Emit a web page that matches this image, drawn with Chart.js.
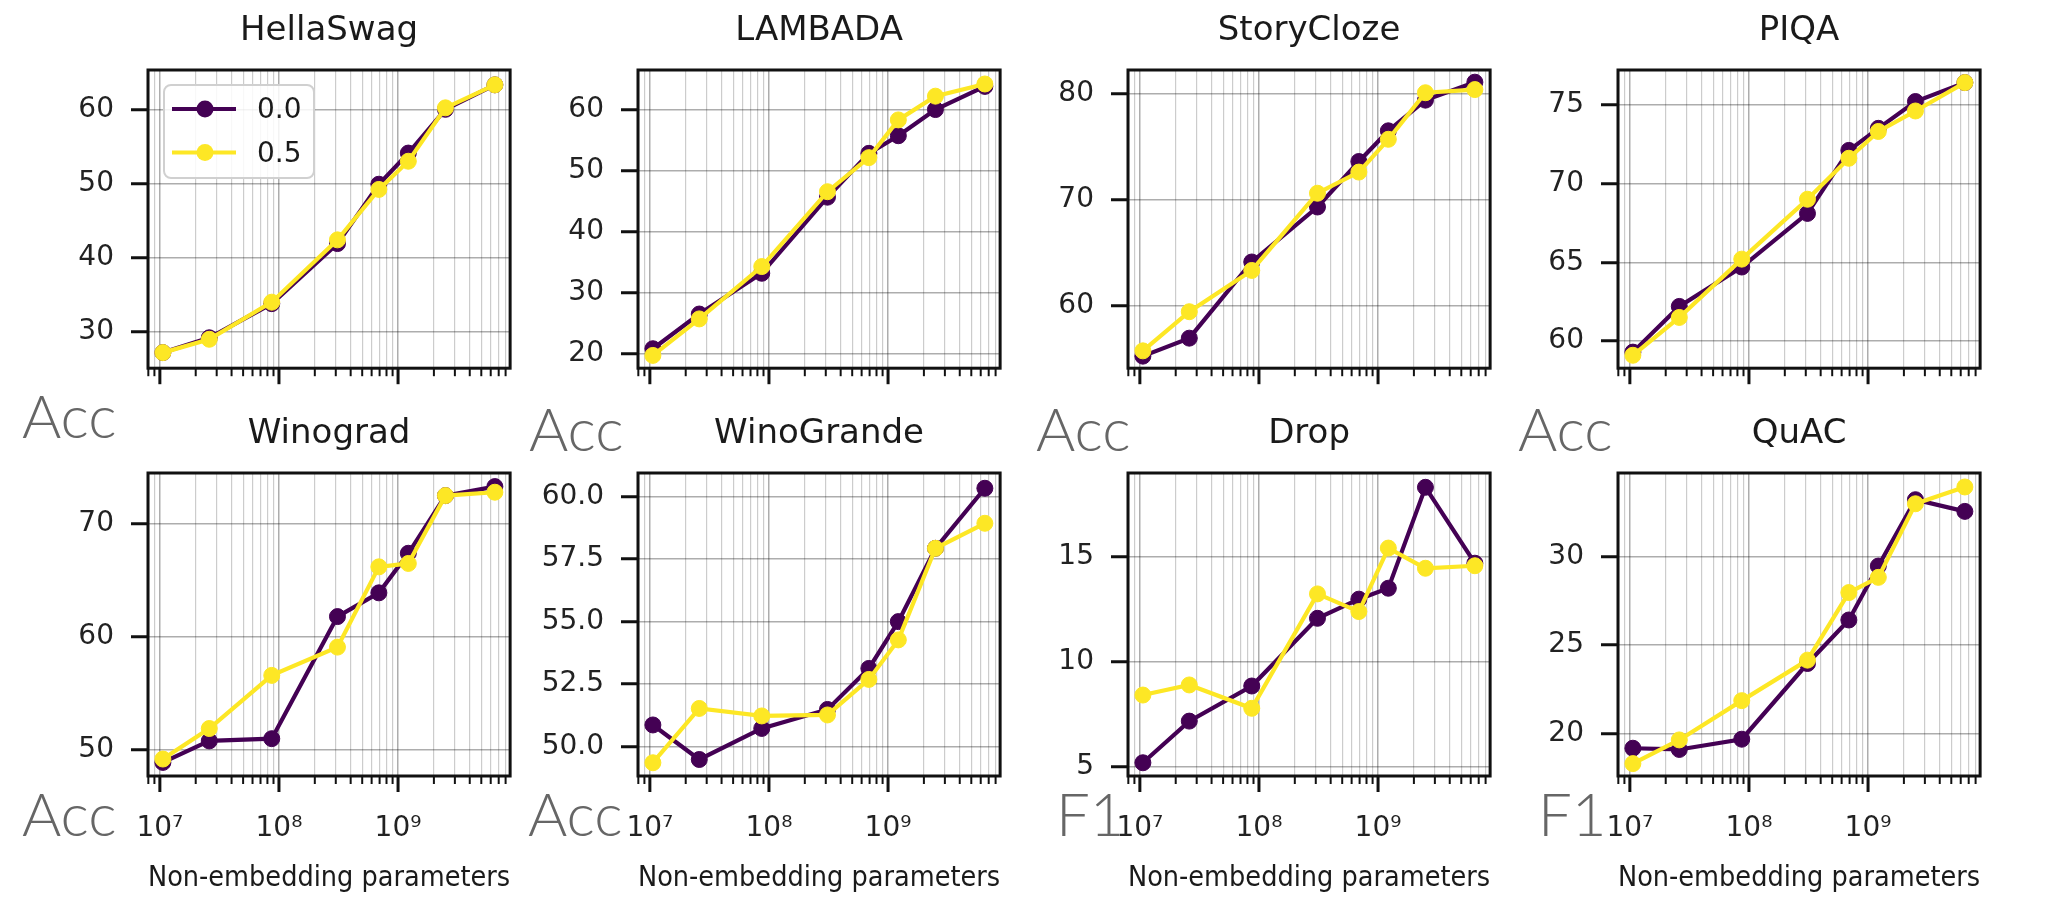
<!DOCTYPE html>
<html>
<head>
<meta charset="utf-8">
<script src="https://cdn.jsdelivr.net/npm/chart.js"></script>
<style>
  html, body { margin: 0; padding: 0; background: #fff; }
  body { width: 2045px; height: 898px; position: relative; overflow: hidden; }
  .painel { position: absolute; }
  #metricas { position: absolute; left: 0; top: 0; }
  #metricas text { font-family: Lato, "Open Sans", sans-serif; font-weight: 300; font-size: 60px; fill: #666; }
</style>
</head>
<body>
<svg id="metricas" width="2045" height="898"></svg>
<script>
// dados (eixo x em escala log)
const params = [1.06e7, 2.6e7, 8.7e7, 3.1e8, 6.9e8, 1.22e9, 2.5e9, 6.5e9];
const seriesLabels = ['0.0', '0.5'];
const seriesColors = ['#440154', '#fde725'];
const tarefas = ['HellaSwag', 'LAMBADA', 'StoryCloze', 'PIQA', 'Winograd', 'WinoGrande', 'Drop', 'QuAC'];
const metricas = ['Acc', 'Acc', 'Acc', 'Acc', 'Acc', 'Acc', 'F1', 'F1'];

const scores00 = [
  [27.2, 29.2, 33.8, 41.9, 49.9, 54.1, 60.0, 63.3],
  [20.8, 26.5, 33.2, 45.7, 52.9, 55.8, 60.1, 63.9],
  [55.2, 56.9, 64.1, 69.3, 73.6, 76.5, 79.4, 81.1],
  [59.3, 62.2, 64.7, 68.1, 72.1, 73.5, 75.2, 76.4],
  [48.9, 50.8, 51.0, 61.8, 63.9, 67.4, 72.5, 73.3],
  [50.87, 49.49, 50.73, 51.49, 53.13, 55.0, 57.93, 60.33],
  [5.19, 7.17, 8.84, 12.06, 12.97, 13.49, 18.29, 14.68],
  [19.17, 19.1, 19.68, 23.96, 26.42, 29.47, 33.22, 32.56]
];
const scores05 = [
  [27.2, 29.0, 34.0, 42.4, 49.2, 53.0, 60.2, 63.3],
  [19.7, 25.7, 34.3, 46.6, 52.2, 58.4, 62.3, 64.3],
  [55.7, 59.4, 63.3, 70.6, 72.6, 75.7, 80.1, 80.4],
  [59.1, 61.5, 65.2, 69.0, 71.6, 73.3, 74.6, 76.4],
  [49.2, 51.9, 56.6, 59.1, 66.2, 66.5, 72.5, 72.8],
  [49.36, 51.53, 51.23, 51.27, 52.69, 54.27, 57.93, 58.93],
  [8.41, 8.89, 7.78, 13.22, 12.38, 15.4, 14.44, 14.56],
  [18.3, 19.64, 21.86, 24.15, 27.97, 28.83, 32.99, 33.94]
];

const yTicks = [
  [30, 40, 50, 60],
  [20, 30, 40, 50, 60],
  [60, 70, 80],
  [60, 65, 70, 75],
  [50, 60, 70],
  [50, 52.5, 55, 57.5, 60],
  [5, 10, 15],
  [20, 25, 30]
];
const yMin = [25.1, 17.6, 54.06, 58.28, 47.7, 48.83, 4.56, 17.6];
const yMax = [65.3, 66.6, 82.25, 77.2, 74.5, 60.94, 18.97, 34.73];

const xMin = 7.95e6, xMax = 8.73e9;
const xMajorTicks = [1e7, 1e8, 1e9];
const xMajorLabels = ['10⁷', '10⁸', '10⁹'];
const xTitulo = 'Non-embedding parameters';

// layout
const colLeft = [148, 638, 1128, 1618];
const rowTop = [70, 473];
const PLOT_W = 388, PLOT_H = 303;
const Y_AXIS_W = 110, TITLE_H = 70, RIGHT_PAD = 6;
const posMetricas = [[22, 438], [529, 451], [1036, 451], [1518, 451], [22, 836], [528, 836], [1056, 836], [1538, 836]];

Chart.defaults.font.family = '"DejaVu Sans", sans-serif';
Chart.defaults.color = '#222';

function ticksLog(min, max) {
  const t = [];
  for (let e = 6; e <= 9; e++) {
    for (let m = 1; m <= 9; m++) {
      const v = m * Math.pow(10, e);
      if (v >= min && v <= max) t.push(v);
    }
  }
  return t;
}
const xTickValues = ticksLog(xMin, xMax);
const ehMaior = v => xMajorTicks.includes(v);

// moldura + marcas do eixo x (maiores e menores)
const moldura = {
  id: 'moldura',
  afterDraw(chart) {
    const { ctx, chartArea: a, scales: { x } } = chart;
    ctx.save();
    ctx.strokeStyle = '#111';
    x.ticks.forEach(t => {
      const px = x.getPixelForValue(t.value);
      const maior = ehMaior(t.value);
      ctx.lineWidth = maior ? 3 : 2;
      ctx.beginPath();
      ctx.moveTo(px, a.bottom);
      ctx.lineTo(px, a.bottom + (maior ? 16 : 8));
      ctx.stroke();
    });
    ctx.lineWidth = 3;
    ctx.strokeRect(a.left, a.top, a.right - a.left, a.bottom - a.top);
    ctx.restore();
  }
};

// legenda dentro do gráfico, como no matplotlib
const legendaInterna = {
  id: 'legendaInterna',
  afterDraw(chart, args, opts) {
    if (!opts.mostrar) return;
    const { ctx, chartArea: a } = chart;
    const x0 = a.left + 16, y0 = a.top + 15, w = 150, h = 93;
    ctx.save();
    ctx.fillStyle = 'rgba(255,255,255,0.85)';
    ctx.strokeStyle = '#d0d0d0';
    ctx.lineWidth = 2;
    ctx.beginPath();
    ctx.roundRect(x0, y0, w, h, 7);
    ctx.fill();
    ctx.stroke();
    chart.data.datasets.forEach((ds, i) => {
      const cy = y0 + 24 + i * 43.5;
      ctx.strokeStyle = ds.borderColor;
      ctx.lineWidth = 4.2;
      ctx.beginPath();
      ctx.moveTo(x0 + 8, cy);
      ctx.lineTo(x0 + 72, cy);
      ctx.stroke();
      ctx.fillStyle = ds.borderColor;
      ctx.beginPath();
      ctx.arc(x0 + 41, cy, 8.5, 0, 2 * Math.PI);
      ctx.fill();
      ctx.fillStyle = '#1a1a1a';
      ctx.font = '28px "DejaVu Sans"';
      ctx.textBaseline = 'middle';
      ctx.fillText(ds.label, x0 + 93, cy + 2);
    });
    ctx.restore();
  }
};

function criarPainel(i) {
  const col = i % 4, row = Math.floor(i / 4);
  const linhaDeBaixo = row === 1;
  const xAxisH = linhaDeBaixo ? 122 : 29;
  const canvas = document.createElement('canvas');
  canvas.className = 'painel';
  canvas.width = Y_AXIS_W + PLOT_W + RIGHT_PAD;
  canvas.height = TITLE_H + PLOT_H + xAxisH;
  canvas.style.left = (colLeft[col] - Y_AXIS_W) + 'px';
  canvas.style.top = (rowTop[row] - TITLE_H) + 'px';
  document.body.appendChild(canvas);

  const decimais = yTicks[i].some(v => v % 1 !== 0) ? 1 : 0;
  const series = [scores00[i], scores05[i]];

  new Chart(canvas, {
    type: 'line',
    data: {
      datasets: series.map((s, k) => ({
        label: seriesLabels[k],
        data: params.map((p, j) => ({ x: p, y: s[j] })),
        borderColor: seriesColors[k],
        backgroundColor: seriesColors[k],
        pointBackgroundColor: seriesColors[k],
        pointBorderColor: seriesColors[k],
        borderWidth: 4.2,
        pointRadius: 8,
        pointBorderWidth: 1,
        tension: 0,
        order: k === 0 ? 1 : 0
      }))
    },
    options: {
      responsive: false,
      animation: false,
      events: [],
      layout: { padding: { right: RIGHT_PAD } },
      plugins: {
        legend: { display: false },
        tooltip: { enabled: false },
        title: {
          display: true,
          text: tarefas[i],
          fullSize: false,
          color: '#1a1a1a',
          font: { size: 34, weight: 'normal' },
          padding: { top: 11.2, bottom: 18 }
        },
        legendaInterna: { mostrar: i === 0 }
      },
      scales: {
        x: {
          type: 'logarithmic',
          min: xMin,
          max: xMax,
          afterBuildTicks: s => { s.ticks = xTickValues.map(v => ({ value: v })); },
          afterFit: s => { s.height = xAxisH; },
          ticks: {
            autoSkip: false,
            maxRotation: 0,
            padding: 36,
            font: { size: 28 },
            color: '#222',
            callback: v => {
              if (!linhaDeBaixo) return '';
              const k = xMajorTicks.indexOf(v);
              return k >= 0 ? xMajorLabels[k] : '';
            }
          },
          grid: {
            drawTicks: false,
            color: c => ehMaior(c.tick.value) ? 'rgba(0,0,0,0.32)' : 'rgba(0,0,0,0.2)',
            lineWidth: c => ehMaior(c.tick.value) ? 1.5 : 1.2
          },
          border: { display: false },
          title: {
            display: linhaDeBaixo,
            text: xTitulo,
            color: '#1a1a1a',
            font: { size: 29 },
            padding: { top: 0, bottom: 2.5 }
          }
        },
        y: {
          type: 'linear',
          min: yMin[i],
          max: yMax[i],
          afterBuildTicks: s => { s.ticks = yTicks[i].map(v => ({ value: v })); },
          afterFit: s => { s.width = Y_AXIS_W; },
          ticks: {
            padding: 17,
            font: { size: 28 },
            color: '#222',
            callback: v => Number(v).toFixed(decimais)
          },
          grid: {
            color: 'rgba(0,0,0,0.32)',
            lineWidth: 1.5,
            tickLength: 17,
            tickWidth: 3,
            tickColor: '#111'
          },
          border: { display: false }
        }
      }
    },
    plugins: [moldura, legendaInterna]
  });
}

tarefas.forEach((t, i) => criarPainel(i));

// rótulos "Acc"/"F1" sobrepostos à figura
const svg = document.getElementById('metricas');
metricas.forEach((m, i) => {
  const el = document.createElementNS('http://www.w3.org/2000/svg', 'text');
  el.setAttribute('x', posMetricas[i][0]);
  el.setAttribute('y', posMetricas[i][1]);
  el.textContent = m;
  svg.appendChild(el);
});
</script>
</body>
</html>
